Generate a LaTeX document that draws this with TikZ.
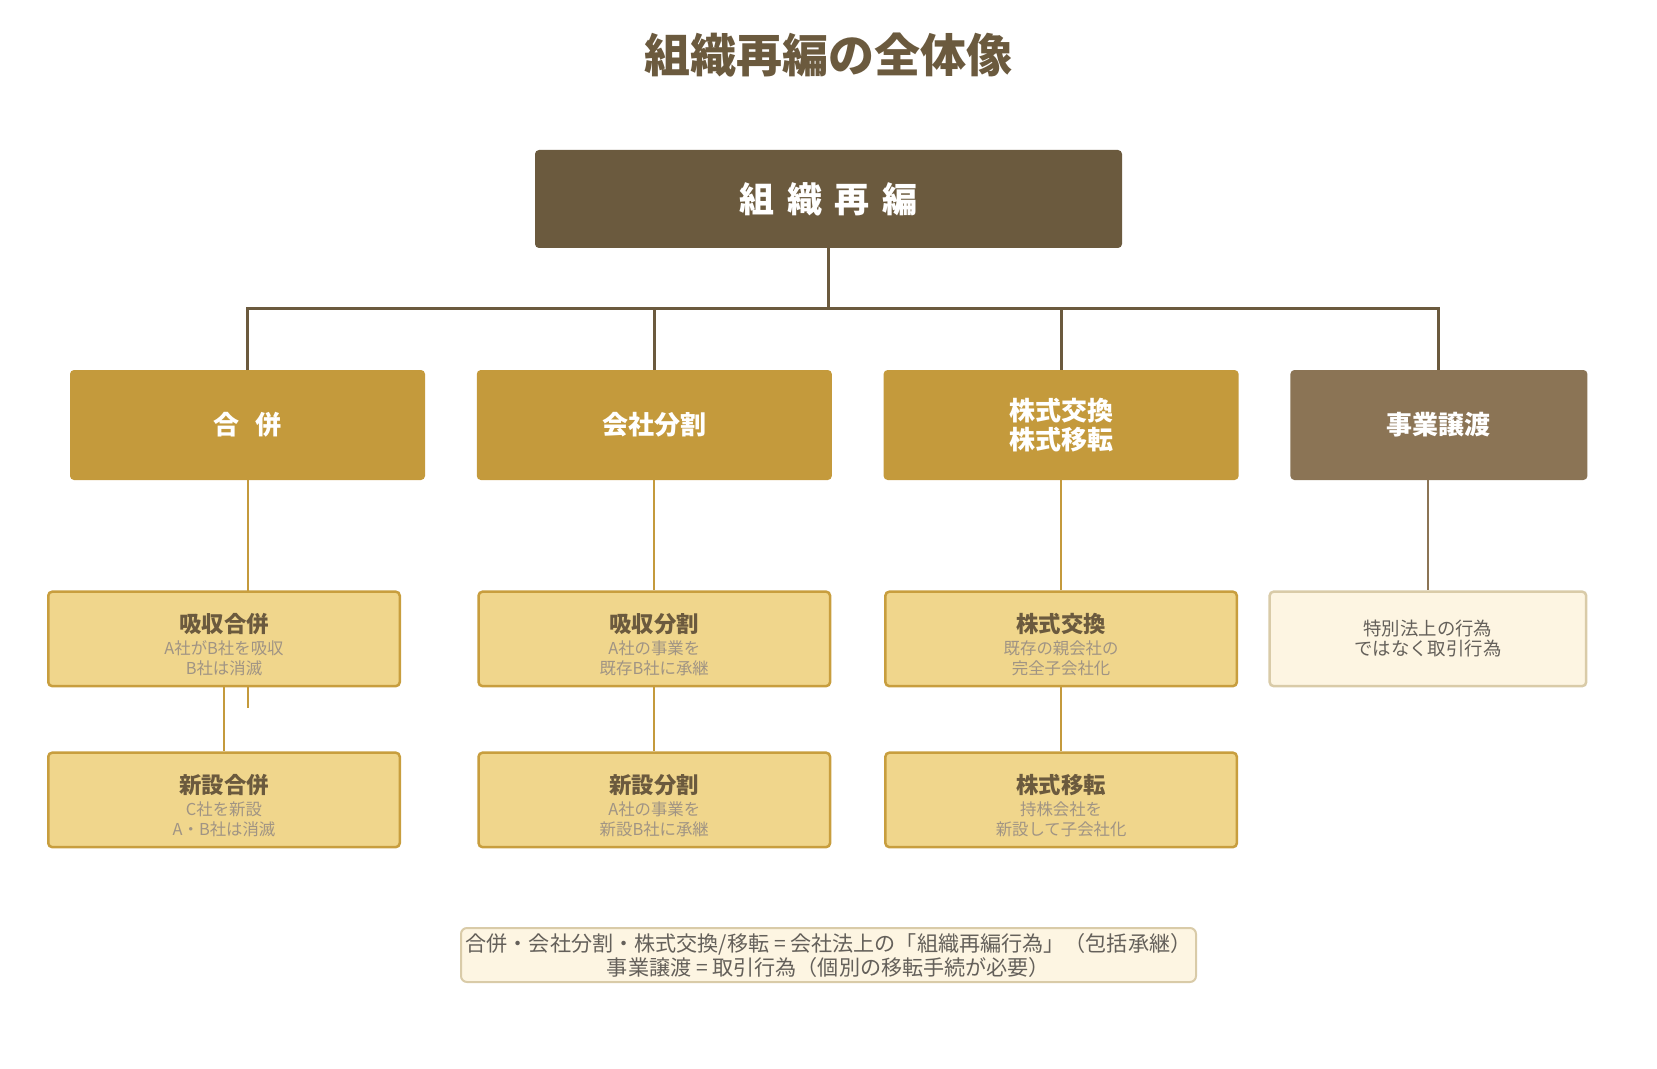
\documentclass[tikz,border=0pt]{standalone}
\usepackage{fontspec}
\setmainfont{Noto Sans CJK JP}
\usetikzlibrary{positioning, backgrounds}

\definecolor{darkbrown}{HTML}{6B5A3E}
\definecolor{gold}{HTML}{C49A3C}
\definecolor{goldedge}{HTML}{C89E3E}
\definecolor{lightgold}{HTML}{F0D68C}
\definecolor{dealbrown}{HTML}{8B7455}
\definecolor{cream}{HTML}{FDF5E2}
\definecolor{creamedge}{HTML}{D9CBA8}
\definecolor{subgray}{HTML}{A09484}
\definecolor{notegray}{HTML}{64605A}

\newcommand{\boxhead}[1]{\rule{0pt}{15.6pt}{\fontsize{11.2}{13}\selectfont\bfseries\color{darkbrown}#1}}

\begin{document}
\begin{tikzpicture}[
        x=0.5pt, y=-0.5pt,
        node distance=55pt and 25.5pt,
        box/.style={rectangle, rounded corners=2pt, align=center, inner sep=0pt},
        topbox/.style={box, fill=darkbrown, text=white, minimum width=293.5pt, minimum height=49pt, font=\fontsize{17.5}{20}\selectfont\bfseries},
        catbox/.style={box, fill=gold, text=white, minimum width=177.5pt, minimum height=55pt, font=\fontsize{13}{14.25}\selectfont\bfseries},
        dealcat/.style={catbox, fill=dealbrown, minimum width=148.5pt},
        subbox/.style={box, draw=goldedge, line width=1.25pt, fill=lightgold, text=subgray, minimum width=175.75pt, minimum height=47.25pt, font=\fontsize{8.2}{10}\selectfont},
        dealbox/.style={box, draw=creamedge, line width=1.25pt, fill=cream, text=notegray, minimum width=158.25pt, minimum height=47.25pt, font=\fontsize{9.2}{10}\selectfont},
        notebox/.style={box, rounded corners=3pt, draw=creamedge, line width=1pt, fill=cream, text=notegray, minimum width=367.5pt, minimum height=27pt, font=\fontsize{10.55}{12}\selectfont},
        trunk/.style={draw=darkbrown, line width=1.5pt},
        branch/.style={draw=gold, line width=1pt},
        dealline/.style={draw=dealbrown, line width=1pt}
    ]
        \useasboundingbox (0,0) rectangle (1657,1069);

        % Title
        \node[text=darkbrown, font=\fontsize{23}{26}\selectfont\bfseries] (title) at (828.5,55) {組織再編の全体像};

        % Root
        \node[topbox] (reorg) at (828.5,199) {組\hspace{0.36em}織\hspace{0.36em}再\hspace{0.36em}編};
        \coordinate (hub) at (828.5,309);

        % Categories
        \node[catbox] (merger) at (247.5,425) {合\hspace{8pt}併};
        \node[catbox, right=of merger] (split) {会社分割};
        \node[catbox, right=of split] (exchange) {株式交換\\株式移転};
        \node[dealcat, right=of exchange] (transfer) {事業譲渡};

        % Types
        \node[subbox, below=of merger, xshift=-11.75pt] (absorb) {\boxhead{吸収合併}\\[1pt]A社がB社を吸収\\B社は消滅};
        \node[subbox, below=of split] (absorbsplit) {\boxhead{吸収分割}\\[1pt]A社の事業を\\既存B社に承継};
        \node[subbox, below=of exchange] (shareex) {\boxhead{株式交換}\\[1pt]既存の親会社の\\完全子会社化};
        \node[dealbox, below=of transfer, xshift=-5.5pt] (deal) {特別法上の行為\\ではなく取引行為};

        \node[subbox, below=32pt of absorb] (newmerge) {\boxhead{新設合併}\\[1pt]C社を新設\\A・B社は消滅};
        \node[subbox, below=32pt of absorbsplit] (newsplit) {\boxhead{新設分割}\\[1pt]A社の事業を\\新設B社に承継};
        \node[subbox, below=32pt of shareex] (sharetr) {\boxhead{株式移転}\\[1pt]持株会社を\\新設して子会社化};

        % Summary
        \node[notebox] (summary) at (828.5,955) {合併・会社分割・株式交換/移転 = 会社法上の「組織再編行為」（包括承継）\\事業譲渡 = 取引行為（個別の移転手続が必要）};

        % Connectors
        \coordinate (stub) at ([yshift=-10.5pt]merger.south |- absorb.south);
        \begin{scope}[on background layer]
            \draw[trunk] (reorg.south) -- (hub);
            \draw[trunk] (merger.north) |- (hub) -| (transfer.north);
            \draw[trunk] (split.north) -- (split.north |- hub);
            \draw[trunk] (exchange.north) -- (exchange.north |- hub);

            \draw[branch] (merger.south) -- (stub);
            \draw[branch] (absorb.south) -- (newmerge.north);
            \draw[branch] (split.south) -- (absorbsplit.north);
            \draw[branch] (absorbsplit.south) -- (newsplit.north);
            \draw[branch] (exchange.south) -- (shareex.north);
            \draw[branch] (shareex.south) -- (sharetr.north);
            \draw[dealline] (deal.north |- transfer.south) -- (deal.north);
        \end{scope}
    \end{tikzpicture}
\end{document}
